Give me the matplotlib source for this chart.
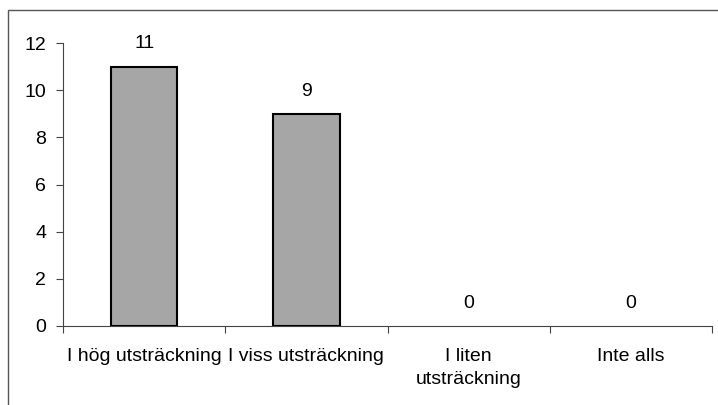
import matplotlib.pyplot as plt
from matplotlib.patches import Rectangle
import numpy as np

plt.rcParams['font.family'] = ['Liberation Sans', 'DejaVu Sans']

categories = ['I hög utsträckning', 'I viss utsträckning', 'I liten\nutsträckning', 'Inte alls']
values = [11, 9, 0, 0]
y_ticks = [0, 2, 4, 6, 8, 10, 12]

fig = plt.figure(figsize=(7.18, 4.05), dpi=100)
# outer frame of the chart area
fig.patches.append(Rectangle((8 / 718, -0.1), 1.1, 1 - 10 / 405 + 0.1,
                             transform=fig.transFigure, fill=False,
                             edgecolor='#555555', linewidth=1.0))

ax = fig.add_axes([63 / 718, 1 - 326 / 405, 649 / 718, 283 / 405])
x = np.arange(len(categories))
lws = [1.5 if v > 0 else 0 for v in values]
ax.bar(x, values, width=0.41, color='#a6a6a6', edgecolor='black', linewidth=lws, zorder=3)

for xi, v in zip(x, values):
    ax.text(xi, v + 0.6, str(v), ha='center', va='bottom', fontsize=14)

ax.set_xlim(-0.5, len(categories) - 0.5)
ax.set_ylim(0, 12)
ax.set_yticks(y_ticks)
ax.set_yticklabels([str(t) for t in y_ticks], fontsize=14)

ax.set_xticks(np.arange(len(categories) + 1) - 0.5)
ax.set_xticklabels([''] * (len(categories) + 1))
ax.set_xticks(x, minor=True)
ax.set_xticklabels(categories, minor=True, fontsize=14, va='top', linespacing=1.45)
ax.tick_params(axis='x', which='minor', length=0, pad=16)
ax.tick_params(axis='x', which='major', length=5, direction='out', color='#444444')
ax.tick_params(axis='y', length=5, direction='out', color='#444444', pad=7)

for side in ['top', 'right']:
    ax.spines[side].set_visible(False)
ax.spines['left'].set_color('#444444')
ax.spines['bottom'].set_color('#444444')

fig.savefig('out.png', dpi=100)
